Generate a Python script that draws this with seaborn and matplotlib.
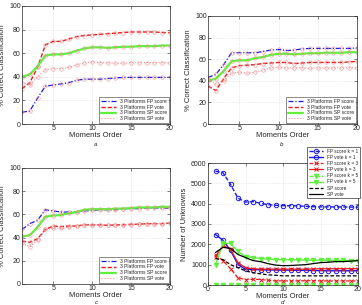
import numpy as np
import pandas as pd
import matplotlib
matplotlib.use("Agg")
import matplotlib.pyplot as plt
import seaborn as sns

# moments order on the x axis
orders = list(range(1, 21))

# panel a
a_fp_score = [10, 11, 22, 32, 33, 34, 35, 37, 38, 38, 38, 38.5, 39, 39.5, 39.5, 39.5, 39.5, 39.5, 39.5, 39.5]
a_fp_vote = [30, 35, 48, 67, 70, 70, 72, 74, 75, 75.5, 76, 76.5, 77, 77.5, 78, 78, 78, 78, 77.5, 77.5]
a_sp_score = [40, 42, 49, 58, 59, 59, 60, 62, 64, 65, 65, 64.5, 65, 65.5, 65.5, 66, 66, 66, 66.5, 66.5]
a_sp_vote = [35, 33, 40, 46, 47, 47, 48, 50, 52, 52.5, 52, 52, 51.5, 51.5, 52, 52, 52, 52, 52, 52]

# panel b
b_fp_score = [43, 46, 55, 66, 66, 66, 66, 67, 68.5, 69, 68, 68.5, 69.5, 70, 70, 70, 70, 70, 70, 70.5]
b_fp_vote = [35, 31, 42, 52, 54, 54.5, 55, 56, 56.5, 57, 57, 56, 56.5, 57, 57, 57, 57, 57, 57.5, 58]
b_sp_score = [40, 42, 49, 58, 59, 59, 61, 62, 64, 65, 65, 64.5, 65, 65.5, 65.5, 66, 66, 66, 66.5, 66.5]
b_sp_vote = [42, 37, 40, 47, 48, 47, 48, 50, 52, 52.5, 52, 52, 52, 51.5, 52, 52, 52, 52, 52, 52]

# panel c
c_fp_score = [47, 52, 55, 64, 63, 62, 62, 62, 63, 63.5, 64, 64, 64, 65, 65, 65, 65.5, 65.5, 65.5, 65.5]
c_fp_vote = [37, 36, 39, 47, 50, 49.5, 50, 50, 51, 51, 51, 50.5, 51, 51, 51.5, 51.5, 52, 52, 52, 52.5]
c_sp_score = [41, 42, 49, 58, 59, 59.5, 61, 62, 64, 64.5, 64.5, 64.5, 65, 65, 65.5, 66, 66, 66, 66.5, 66.5]
c_sp_vote = [35, 32, 38, 47, 48, 48, 49, 50, 51, 51, 51, 51, 50.5, 51, 51, 51.5, 52, 52, 52, 52.5]

# panel d - number of unknowns
d_fp_score_k1 = [5600, 5520, 4950, 4270, 4080, 4100, 4020, 3950, 3920, 3900, 3900, 3890, 3870, 3850, 3840, 3840, 3840, 3840, 3830, 3830]
d_fp_vote_k1 = [2480, 2200, 1700, 1000, 780, 760, 750, 740, 740, 730, 730, 720, 720, 710, 710, 700, 700, 700, 700, 700]
d_fp_score_k3 = [1480, 1200, 800, 350, 270, 280, 270, 230, 200, 200, 200, 200, 210, 210, 200, 200, 200, 200, 200, 200]
d_fp_vote_k3 = [1400, 1950, 1750, 1100, 850, 800, 780, 780, 780, 780, 780, 780, 780, 790, 800, 800, 800, 800, 800, 800]
d_fp_score_k5 = [10, 10, 10, 10, 10, 10, 10, 10, 10, 10, 10, 10, 10, 10, 10, 10, 10, 10, 10, 10]
d_fp_vote_k5 = [1000, 2050, 2050, 1650, 1400, 1350, 1300, 1280, 1250, 1250, 1240, 1230, 1230, 1220, 1220, 1220, 1210, 1210, 1200, 1200]
d_sp_score = [1300, 1250, 1000, 850, 700, 600, 550, 500, 480, 450, 450, 450, 450, 450, 450, 450, 450, 450, 450, 450]
d_sp_vote = [1600, 1850, 1800, 1500, 1350, 1200, 1150, 1050, 980, 950, 960, 980, 1000, 1050, 1100, 1120, 1150, 1150, 1170, 1200]

pct_labels = ["3 Platforms FP score", "3 Platforms FP vote", "3 Platforms SP score", "3 Platforms SP vote"]
d_labels = ["FP score k = 1", "FP vote k = 1", "FP score k = 3", "FP vote k = 3",
            "FP score k = 5", "FP vote k = 5", "SP score", "SP vote"]

sns.set_style("ticks")
plt.rcParams["font.family"] = ["Liberation Sans", "DejaVu Sans"]
plt.rcParams["axes.linewidth"] = 0.5

BLUE = "#1a1ae6"
RED = "#e61a1a"
GREEN = "#5ef03c"
PINK = "#f08c8c"

fig = plt.figure(figsize=(3.62, 3.05), dpi=100)
W, H = 362, 305


def rect(l, t, r, b):
    return [l / W, (H - b) / H, (r - l) / W, (b - t) / H]


def style_axes(ax, xlim, xticks, ylim, yticks, ylabel):
    ax.set_xlim(*xlim)
    ax.set_ylim(*ylim)
    ax.set_xticks(xticks)
    ax.set_yticks(yticks)
    ax.tick_params(labelsize=5, length=2, width=0.4, pad=1, direction="in", top=True, right=True)
    ax.grid(True, color="#cccccc", linestyle=":", linewidth=0.4)
    ax.set_xlabel("Moments Order", fontsize=5.5, labelpad=0)
    ax.set_ylabel(ylabel, fontsize=5.5, labelpad=2)
    for s in ax.spines.values():
        s.set_linewidth(0.5)


def pct_panel(ax, series):
    styles = [(BLUE, (0, (4, 1.5, 1, 1.5)), 0.9), (RED, (0, (3, 1.5)), 1.0),
              (GREEN, "-", 1.6), (PINK, ":", 0.8)]
    for vals, lab, (col, ls, lw) in zip(series, pct_labels, styles):
        df = pd.DataFrame({"order": orders, "pct": vals})
        sns.lineplot(data=df, x="order", y="pct", ax=ax, color=col, linestyle=ls, linewidth=lw,
                     marker="o", markersize=2.5, markerfacecolor="none", markeredgecolor=PINK,
                     markeredgewidth=0.4, label=lab)
    style_axes(ax, (1, 20), [5, 10, 15, 20], (0, 100), range(0, 101, 20), "% Correct Classification")
    leg = ax.legend(loc="lower right", fontsize=3.6, frameon=True, fancybox=False, borderpad=0.3,
                    handlelength=3, labelspacing=0.15, borderaxespad=0.3, edgecolor="black")
    leg.get_frame().set_linewidth(0.4)
    for ln in leg.get_lines():
        ln.set_marker("")


ax_a = fig.add_axes(rect(22, 6, 170, 124))
pct_panel(ax_a, [a_fp_score, a_fp_vote, a_sp_score, a_sp_vote])
ax_b = fig.add_axes(rect(208, 16, 357, 124))
pct_panel(ax_b, [b_fp_score, b_fp_vote, b_sp_score, b_sp_vote])
ax_c = fig.add_axes(rect(22, 168, 170, 284))
pct_panel(ax_c, [c_fp_score, c_fp_vote, c_sp_score, c_sp_vote])

ax_d = fig.add_axes(rect(208, 163, 358, 285))
d_series = [d_fp_score_k1, d_fp_vote_k1, d_fp_score_k3, d_fp_vote_k3,
            d_fp_score_k5, d_fp_vote_k5, d_sp_score, d_sp_vote]
d_styles = [(BLUE, (0, (3, 1.5)), "o", 1.0), (BLUE, "-", "o", 1.0),
            (RED, (0, (3, 1.5)), "x", 0.9), (RED, "-", "x", 0.9),
            (GREEN, (0, (3, 1.5)), "v", 1.0), (GREEN, "-", "v", 1.0),
            ("black", (0, (3, 1.5)), None, 0.9), ("black", "-", None, 0.9)]
for vals, lab, (col, ls, mk, lw) in zip(d_series, d_labels, d_styles):
    df = pd.DataFrame({"order": orders, "unknowns": vals})
    kw = {}
    if mk is not None:
        kw = dict(marker=mk, markersize=3.2, markerfacecolor="none" if mk == "o" else col,
                  markeredgecolor=col, markeredgewidth=0.7)
    sns.lineplot(data=df, x="order", y="unknowns", ax=ax_d, color=col, linestyle=ls,
                 linewidth=lw, label=lab, **kw)
style_axes(ax_d, (0, 20), range(0, 21, 5), (0, 6000), range(0, 6001, 1000), "Number of Unknowns")
leg = ax_d.legend(loc="upper right", bbox_to_anchor=(1.01, 1.13), fontsize=3.4, frameon=True,
                  fancybox=False, borderpad=0.3, handlelength=3, labelspacing=0.25,
                  borderaxespad=0, edgecolor="black", framealpha=1)
leg.get_frame().set_linewidth(0.4)

# panel letters under the x labels
for x, y, letter in [(96, 145, "a"), (282, 145, "b"), (96, 302, "c"), (283, 302, "d")]:
    fig.text(x / W, 1 - y / H, letter, fontsize=4.5, ha="center", va="center", style="italic")

fig.savefig("out.png", dpi=100)
